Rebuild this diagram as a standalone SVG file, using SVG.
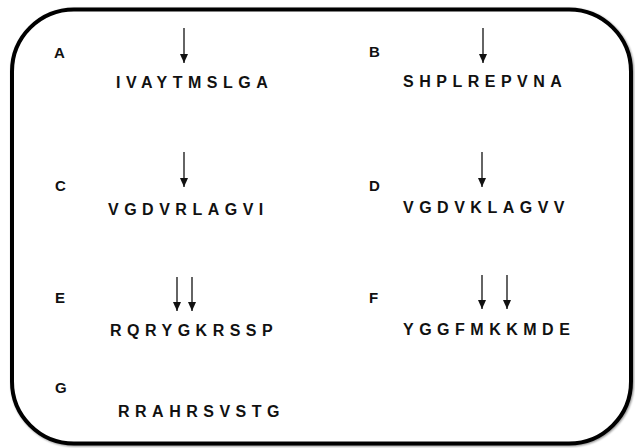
<svg xmlns="http://www.w3.org/2000/svg" width="635" height="448" viewBox="0 0 635 448">
  <style>
    .lbl { font-family: "Liberation Sans", Arial, sans-serif; font-weight: bold; font-size: 15px; fill: #111; }
    .seq { font-family: "Liberation Sans", Arial, sans-serif; font-weight: bold; font-size: 16px; letter-spacing: 5.5px; fill: #111; }
    .arr { stroke: #111; stroke-width: 1.3; fill: none; marker-end: url(#head); }
  </style>
  <defs>
    <marker id="head" viewBox="0 0 9 8" refX="9" refY="4" markerWidth="9" markerHeight="8" markerUnits="userSpaceOnUse" orient="auto">
      <path d="M0,0 L9,4 L0,8 Z" fill="#111"/>
    </marker>
    <filter id="soft" x="-5%" y="-5%" width="110%" height="110%">
      <feGaussianBlur in="SourceAlpha" stdDeviation="1.2"/>
      <feOffset dx="1" dy="1" result="s"/>
      <feComponentTransfer><feFuncA type="linear" slope="0.45"/></feComponentTransfer>
      <feMerge><feMergeNode/><feMergeNode in="SourceGraphic"/></feMerge>
    </filter>
  </defs>

  <rect width="635" height="448" fill="#fff"/>
  <rect id="frame" x="12" y="9.5" width="619" height="434" rx="62" ry="62" fill="#fff" stroke="#000" stroke-width="4" filter="url(#soft)"/>

  <g id="panel-A">
    <text class="lbl" x="54" y="58">A</text>
    <text class="seq" x="116" y="88">IVAYTMSLGA</text>
  </g>
  <g id="panel-B">
    <text class="lbl" x="369" y="57">B</text>
    <text class="seq" x="403" y="87">SHPLREPVNA</text>
  </g>
  <g id="panel-C">
    <text class="lbl" x="55" y="191">C</text>
    <text class="seq" x="108" y="215">VGDVRLAGVI</text>
  </g>
  <g id="panel-D">
    <text class="lbl" x="369" y="191">D</text>
    <text class="seq" x="403" y="213">VGDVKLAGVV</text>
  </g>
  <g id="panel-E">
    <text class="lbl" x="55" y="303">E</text>
    <text class="seq" x="110" y="336">RQRYGKRSSP</text>
  </g>
  <g id="panel-F">
    <text class="lbl" x="369" y="303">F</text>
    <text class="seq" x="403" y="335">YGGFMKKMDE</text>
  </g>
  <g id="panel-G">
    <text class="lbl" x="55" y="393">G</text>
    <text class="seq" x="118" y="417">RRAHRSVSTG</text>
  </g>

  <g id="connectors">
    <line class="arr" x1="184" y1="28" x2="184" y2="63"/>
    <line class="arr" x1="483" y1="28" x2="483" y2="63"/>
    <line class="arr" x1="184" y1="152" x2="184" y2="187"/>
    <line class="arr" x1="482" y1="152" x2="482" y2="187"/>
    <line class="arr" x1="177" y1="277" x2="177" y2="311"/>
    <line class="arr" x1="192" y1="277" x2="192" y2="311"/>
    <line class="arr" x1="482" y1="275" x2="482" y2="309"/>
    <line class="arr" x1="507" y1="275" x2="507" y2="309"/>
  </g>
</svg>
